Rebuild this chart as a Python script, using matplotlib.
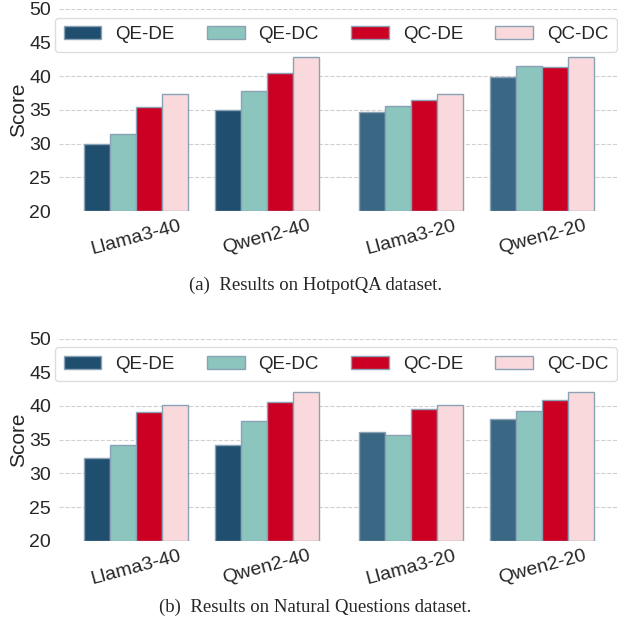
import matplotlib.pyplot as plt
import numpy as np
import seaborn as sns

sns.set_style('whitegrid')
plt.rcParams['font.family'] = ['Liberation Sans', 'DejaVu Sans']

models = ['Llama3-40', 'Qwen2-40', 'Llama3-20', 'Qwen2-20']
methods = ['QE-DE', 'QE-DC', 'QC-DE', 'QC-DC']

# HotpotQA
hotpot = {
    'QE-DE': [29.9, 35.05, 34.75, 39.9],
    'QE-DC': [31.4, 37.8, 35.6, 41.5],
    'QC-DE': [35.4, 40.5, 36.5, 41.4],
    'QC-DC': [37.4, 42.9, 37.4, 42.9],
}
# Natural Questions
nq = {
    'QE-DE': [32.3, 34.2, 36.1, 38.0],
    'QE-DC': [34.2, 37.7, 35.65, 39.3],
    'QC-DE': [39.1, 40.65, 39.6, 40.95],
    'QC-DC': [40.2, 42.0, 40.2, 42.0],
}

captions = ['(a)  Results on HotpotQA dataset.',
            '(b)  Results on Natural Questions dataset.']

colors = {'QE-DE': ['#1f4e6e', '#1f4e6e', '#3a6784', '#3a6784'],
          'QE-DC': ['#8cc5bd'] * 4,
          'QC-DE': ['#cc0022'] * 4,
          'QC-DC': ['#f9d9dc'] * 4}

x = np.array([0, 1, 2.1, 3.1])
w = 0.2

fig = plt.figure(figsize=(6.18, 6.34), dpi=100)
ax1 = fig.add_axes([0.095, 0.667, 0.903, 0.319])
ax2 = fig.add_axes([0.095, 0.147, 0.903, 0.319])

for ax, data, cap, capy in [(ax1, hotpot, captions[0], 0.543), (ax2, nq, captions[1], 0.035)]:
    for i, m in enumerate(methods):
        ax.bar(x + (i - 1.5) * w, np.array(data[m]) - 20, w, bottom=20,
               color=colors[m], edgecolor='#8aa2b6', linewidth=1.0, label=m, zorder=3)
    ax.set_ylim(20, 50)
    ax.set_xlim(-0.59, 3.67)
    ax.set_yticks([20, 25, 30, 35, 40, 45, 50])
    ax.set_xticks(x)
    ax.set_xticklabels(models, rotation=15, fontsize=14)
    ax.tick_params(axis='y', labelsize=14, pad=2)
    ax.tick_params(axis='x', pad=1)
    ax.set_ylabel('Score', fontsize=15, labelpad=1)
    ax.grid(axis='y', linestyle='--', color='#d0d0d0', linewidth=0.8)
    ax.grid(axis='x', visible=False)
    for s in ax.spines.values():
        s.set_visible(False)
    ax.legend(ncol=4, loc='upper right', bbox_to_anchor=(1.0, 0.957), fontsize=13.5,
              frameon=True, handlelength=2.0, handletextpad=0.75, columnspacing=1.72,
              borderpad=0.45, borderaxespad=0, edgecolor='#dddddd', framealpha=1)
    fig.text(0.51, capy, cap, ha='center', fontsize=13.5, family='Liberation Serif')

plt.savefig('out.png', dpi=100)
